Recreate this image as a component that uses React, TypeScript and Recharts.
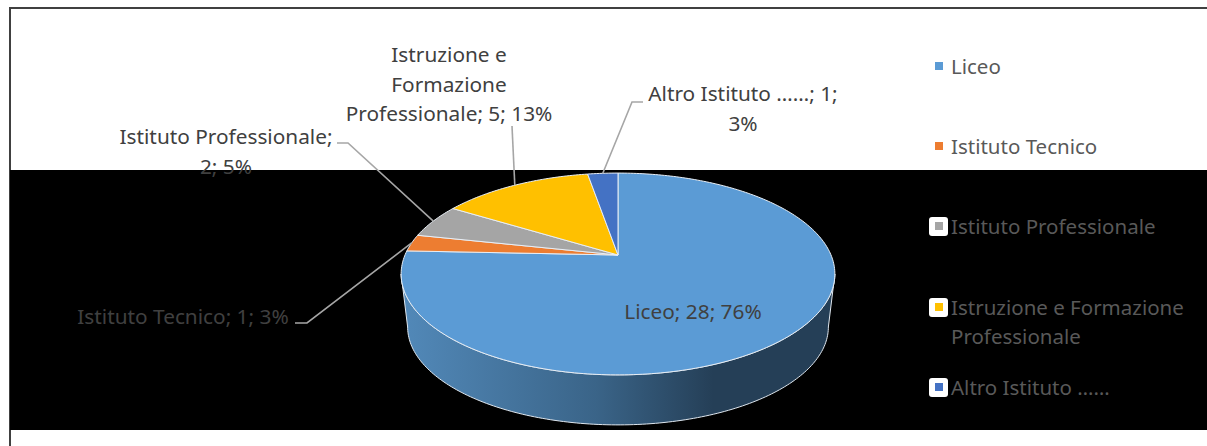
import { PieChart, Pie, Cell, Legend } from 'recharts';

const CATEGORIES = ['Liceo', 'Istituto Tecnico', 'Istituto Professionale', 'Istruzione e Formazione Professionale', 'Altro Istituto ……'];
const VALUES = [28, 1, 2, 5, 1];
const COLORS = ['#5B9BD5', '#ED7D31', '#A5A5A5', '#FFC000', '#4472C4'];
// label text as wrapped in the picture (the 13% is what the source shows)
const LABEL_LINES = [
  ['Liceo; 28; 76%'],
  ['Istituto Tecnico; 1; 3%'],
  ['Istituto Professionale;', '2; 5%'],
  ['Istruzione e', 'Formazione', 'Professionale; 5; 13%'],
  ['Altro Istituto ……; 1;', '3%'],
];
const LEGEND_LINES = [['Liceo'], ['Istituto Tecnico'], ['Istituto Professionale'], ['Istruzione e Formazione', 'Professionale'], ['Altro Istituto ……']];

const data = CATEGORIES.map((name, i) => ({ name, value: VALUES[i] }));

const FONT = '"Noto Sans", sans-serif';
const FONT_SIZE = 20.8;
const LEGEND_FONT_SIZE = 20.5;
const LINE_H = 29.5;

// layout of each label: text centre and leader line knee
const LABEL_POS = [
  { x: 693, y: 311 },
  { x: 183, y: 316, kneeX: 307, kneeY: 323, endX: 295 },
  { x: 226, y: 136, kneeX: 348, kneeY: 143, endX: 337 },
  { x: 449, y: 54, kneeX: 512, kneeY: 126, endX: 512 },
  { x: 743, y: 93, kneeX: 632, kneeY: 102, endX: 643 },
];
const LEGEND_Y = [66, 146, 226, 307, 387];

// perspective of the tilted disc
const K = 0.188;
const TILT = 0.457;
const BOTTOM_SCALE = 0.97;
const BOTTOM_DROP = 53.6;
const RAD = Math.PI / 180;

function project(cx: number, cy: number, r: number, deg: number) {
  const u = Math.cos(deg * RAD);
  const v = Math.sin(deg * RAD);
  const d = 1 + K * v;
  return { x: cx + (r * u) / d, y: cy - (r * TILT * v) / d };
}

function arcPoints(cx: number, cy: number, r: number, from: number, to: number) {
  const steps = Math.max(2, Math.ceil(Math.abs(to - from)));
  const pts = [];
  for (let i = 0; i <= steps; i++) pts.push(project(cx, cy, r, from + ((to - from) * i) / steps));
  return pts;
}

const toPath = (pts: { x: number; y: number }[]) => pts.map((p, i) => `${i ? 'L' : 'M'}${p.x.toFixed(2)} ${p.y.toFixed(2)}`).join(' ');

function Slice(props: any) {
  const { cx, cy, outerRadius, startAngle, endAngle, fill, index } = props;
  const top = arcPoints(cx, cy, outerRadius, startAngle, endAngle);
  // side wall: only the front of the disc shows it, between the two silhouette points
  const edge = Math.asin(K) / RAD;
  const wallRight = Math.max(-edge, endAngle);
  const wallLeft = -180 + edge;
  let wall = null;
  if (startAngle > wallLeft && endAngle < -edge) {
    const a = arcPoints(cx, cy, outerRadius, wallLeft, wallRight);
    const b = arcPoints(cx, cy + BOTTOM_DROP, outerRadius * BOTTOM_SCALE, wallRight, wallLeft);
    wall = (
      <>
        <defs>
          <linearGradient id={`wall${index}`} x1="0" x2="1" y1="0" y2="0">
            <stop offset="0" stopColor="#5289b9" />
            <stop offset="0.45" stopColor="#3a6488" />
            <stop offset="0.72" stopColor="#253f57" />
            <stop offset="1" stopColor="#253f57" />
          </linearGradient>
        </defs>
        <path d={`${toPath([...a, ...b])} Z`} fill={`url(#wall${index})`} stroke="#dfe7ef" strokeWidth={1} />
      </>
    );
  }
  return (
    <g>
      {wall}
      <path d={`M${cx} ${cy} ${toPath(top).replace('M', 'L')} Z`} fill={fill} stroke="#e8eef5" strokeWidth={1} />
    </g>
  );
}

function SliceLabel(props: any) {
  const { cx, cy, outerRadius, midAngle, index } = props;
  const pos = LABEL_POS[index];
  const lines = LABEL_LINES[index];
  const tip = project(cx, cy, outerRadius, midAngle);
  return (
    <g>
      {pos.kneeX !== undefined && (
        <polyline
          points={`${pos.endX},${pos.kneeY} ${pos.kneeX},${pos.kneeY} ${tip.x},${tip.y}`}
          fill="none"
          stroke="#A6A6A6"
          strokeWidth={1.6}
        />
      )}
      {lines.map((line, i) => (
        <text
          key={i}
          x={pos.x}
          y={pos.y + i * LINE_H}
          textAnchor="middle"
          dominantBaseline="central"
          fontFamily={FONT}
          fontSize={FONT_SIZE}
          fill="#404040"
        >
          {line}
        </text>
      ))}
    </g>
  );
}

function LegendList({ payload }: any) {
  return (
    <div style={{ position: 'relative', width: 270, height: 360, fontFamily: FONT, fontSize: LEGEND_FONT_SIZE, color: '#595959' }}>
      {(payload || []).map((entry: any, i: number) => (
        <div key={i} style={{ position: 'absolute', left: 0, top: LEGEND_Y[i] - 9.5, display: 'flex' }}>
          <div style={{ width: 19, height: 19, borderRadius: 3, background: '#fff', display: 'flex', alignItems: 'center', justifyContent: 'center', flex: 'none' }}>
            <div style={{ width: 8, height: 8, background: COLORS[i] }} />
          </div>
          <div style={{ marginLeft: 3, lineHeight: `${LINE_H}px`, marginTop: -5, whiteSpace: 'nowrap' }}>
            {LEGEND_LINES[i].map((l) => (
              <div key={l}>{l}</div>
            ))}
          </div>
        </div>
      ))}
    </div>
  );
}

export default function App() {
  return (
    <div style={{ position: 'absolute', left: 0, top: 0, width: 1207, height: 446, background: '#fff', overflow: 'hidden' }}>
      <div style={{ position: 'absolute', left: 9, top: 7, width: 1198, height: 2, background: '#404040' }} />
      <div style={{ position: 'absolute', left: 9, top: 7, width: 2, height: 439, background: '#404040' }} />
      <div style={{ position: 'absolute', left: 10, top: 170, width: 1197, height: 260, background: '#000' }} />
      <div style={{ position: 'absolute', left: 0, top: 0 }}>
        <PieChart width={1207} height={446} margin={{ top: 0, right: 0, bottom: 0, left: 0 }}>
          <Pie
            data={data}
            dataKey="value"
            nameKey="name"
            cx={618}
            cy={255}
            innerRadius={0}
            outerRadius={213}
            startAngle={90}
            endAngle={-270}
            paddingAngle={0}
            shape={Slice}
            label={SliceLabel}
            labelLine={false}
            isAnimationActive={false}
          >
            {data.map((_, i) => (
              <Cell key={i} fill={COLORS[i]} />
            ))}
          </Pie>
          <Legend content={LegendList} wrapperStyle={{ position: 'absolute', left: 929, top: 0, width: 270, bottom: 'auto', right: 'auto' }} />
        </PieChart>
      </div>
    </div>
  );
}
